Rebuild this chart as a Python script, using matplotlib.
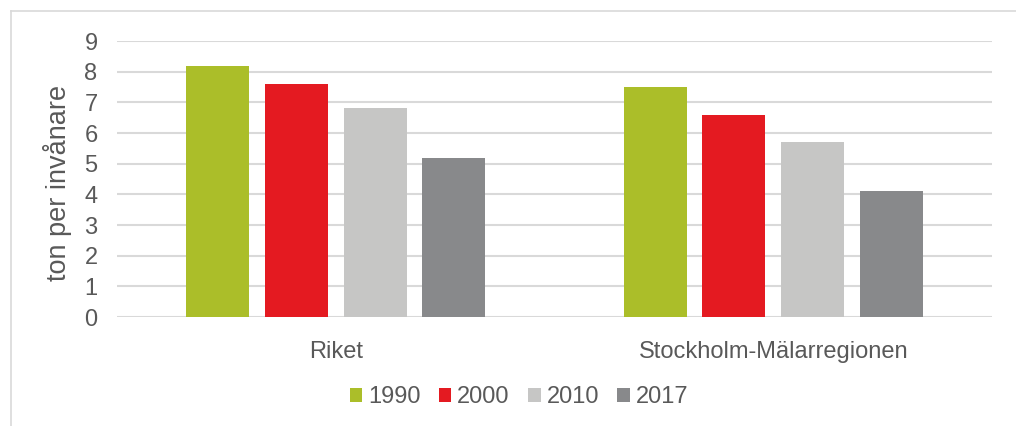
import numpy as np
import matplotlib
matplotlib.use("Agg")
import matplotlib.pyplot as plt
from matplotlib.lines import Line2D

plt.rcParams['font.family'] = ['Liberation Sans', 'DejaVu Sans']

regions = ["Riket", "Stockholm-Mälarregionen"]
years = ["1990", "2000", "2010", "2017"]
values = {
    "1990": [8.2, 7.5],
    "2000": [7.6, 6.6],
    "2010": [6.8, 5.7],
    "2017": [5.2, 4.1],
}
colors = ["#abbe29", "#e41a21", "#c6c6c5", "#88898b"]
text_color = "#595959"

W, H = 1016, 426
fig = plt.figure(figsize=(W / 100, H / 100), dpi=100)
ax = fig.add_axes([117 / W, 1 - 317 / H, (992 - 117) / W, (317 - 41) / H])

# chart frame (left and top edges visible)
fig.add_artist(Line2D([10.5 / W, 10.5 / W], [0, 1 - 10.5 / H], transform=fig.transFigure,
                      color="#d9d9d9", lw=1.2))
fig.add_artist(Line2D([10.5 / W, 1], [1 - 10.5 / H, 1 - 10.5 / H], transform=fig.transFigure,
                      color="#d9d9d9", lw=1.2))

x = np.arange(len(regions))
width = 0.144
step = 0.18
for i, (yr, c) in enumerate(zip(years, colors)):
    ax.bar(x + (i - 1.5) * step, values[yr], width, color=c, label=yr, zorder=3)

ax.set_xlim(-0.5, 1.5)
ax.set_ylim(0, 9)
ax.set_yticks(range(0, 10))
ax.yaxis.grid(True, color="#d9d9d9", lw=1.5, zorder=0)
ax.set_axisbelow(True)
for s in ax.spines.values():
    s.set_visible(False)
ax.set_xticks(x)
ax.set_xticklabels(regions)
ax.tick_params(axis="both", length=0, labelsize=17, labelcolor=text_color)
ax.tick_params(axis="y", pad=14)
ax.tick_params(axis="x", pad=17)
ax.set_ylabel("ton per invånare", fontsize=19.5, color=text_color)
ax.yaxis.set_label_coords(-0.052, 0.486)

leg = fig.legend(loc="center", bbox_to_anchor=(519 / W, 1 - 397 / H), ncol=4, frameon=False,
                 fontsize=17, handlelength=0.53, handleheight=0.53, handletextpad=0.25,
                 columnspacing=0.77, labelcolor=text_color)

fig.savefig("out.png", dpi=100)
